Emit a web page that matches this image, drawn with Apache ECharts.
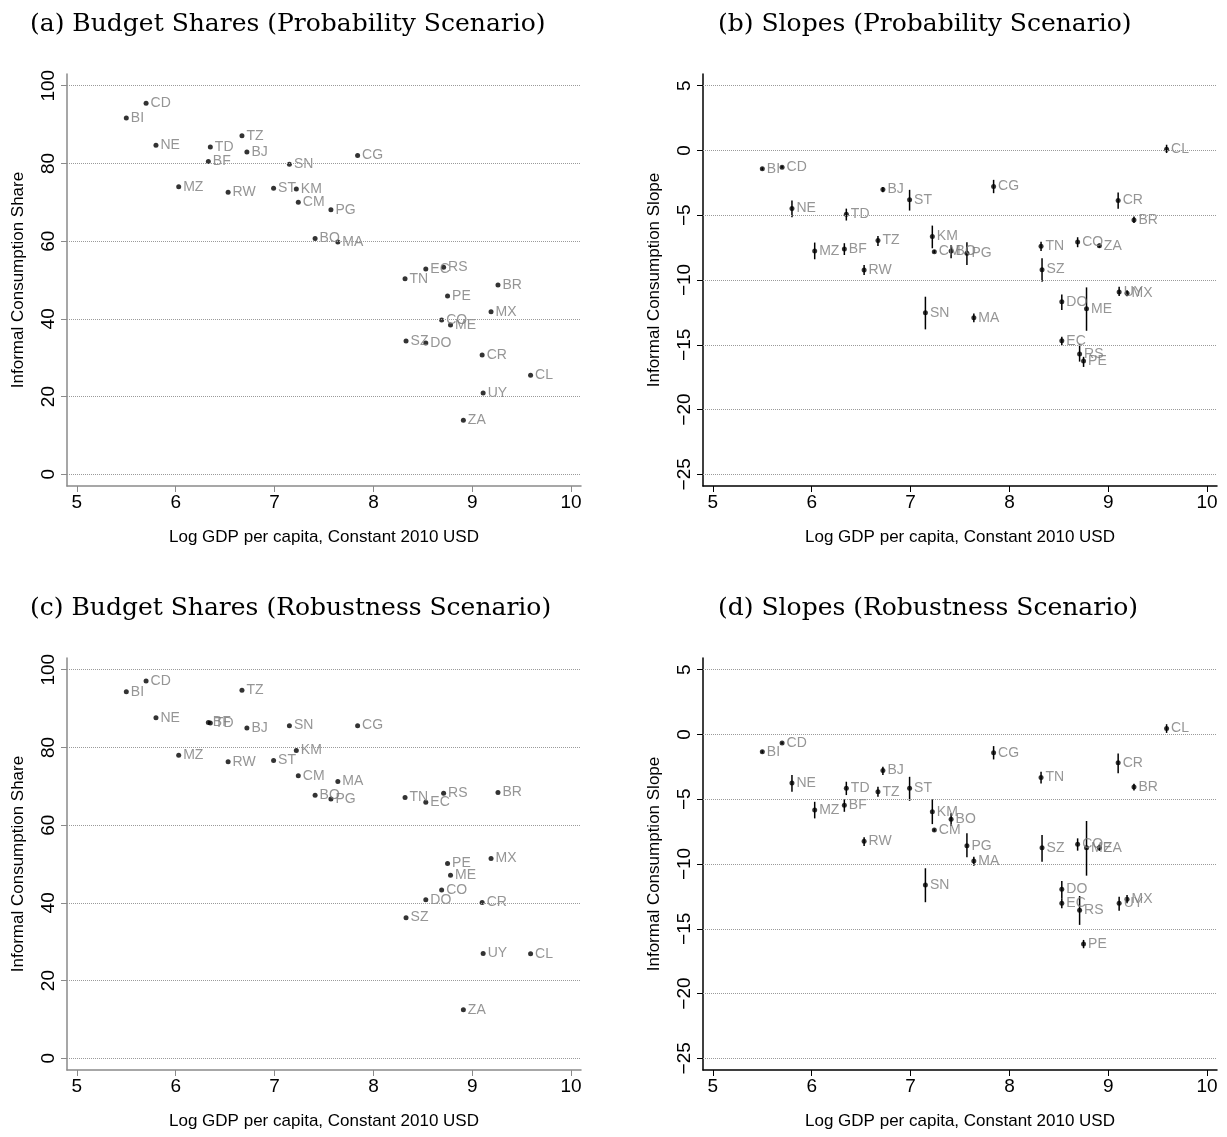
<!DOCTYPE html>
<html>
<head>
<meta charset="utf-8">
<script src="https://cdn.jsdelivr.net/npm/echarts@6/dist/echarts.min.js"></script>
<style>
html,body{margin:0;padding:0;background:#fff;}
#chart{width:1227px;height:1137px;}
</style>
</head>
<body>
<div id="chart"></div>
<script>
// ---- Data ----
var countries = ['BI','CD','NE','MZ','BF','TD','RW','TZ','BJ','ST','SN','KM','CM','BO','PG','MA','CG','TN','SZ','EC','DO','CO','RS','PE','ME','ZA','CR','UY','MX','BR','CL'];
var logGDP    = [5.50,5.70,5.80,6.03,6.33,6.35,6.53,6.67,6.72,6.99,7.15,7.22,7.24,7.41,7.57,7.64,7.84,8.32,8.33,8.53,8.53,8.69,8.71,8.75,8.78,8.91,9.10,9.11,9.19,9.26,9.59];

// (a) Budget shares, probability scenario
var shareProb = [91.7,95.5,84.7,74.0,80.5,84.2,72.6,87.1,82.9,73.6,79.8,73.4,70.0,60.7,68.1,59.8,82.0,50.3,34.3,52.8,33.8,39.7,53.3,45.9,38.4,13.9,30.7,20.9,41.8,48.7,25.5];

// (b) Slopes, probability scenario (point, CI low, CI high)
var slopeProb   = [-1.42,-1.29,-4.48,-7.76,-7.60,-4.92,-9.23,-6.96,-3.02,-3.81,-12.53,-6.65,-7.81,-7.76,-7.94,-12.91,-2.78,-7.40,-9.20,-14.69,-11.68,-7.06,-15.72,-16.26,-12.22,-7.35,-3.87,-10.93,-11.03,-5.36,0.10];
var slopeProbLo = [-1.52,-1.38,-5.15,-8.40,-8.07,-5.41,-9.61,-7.37,-3.22,-4.64,-13.81,-7.55,-7.92,-8.32,-8.84,-13.27,-3.30,-7.76,-10.13,-15.03,-12.32,-7.47,-16.30,-16.71,-13.92,-7.50,-4.51,-11.24,-11.25,-5.60,-0.20];
var slopeProbHi = [-1.32,-1.20,-3.87,-7.11,-7.16,-4.49,-8.84,-6.60,-2.83,-3.04,-11.29,-5.80,-7.70,-7.29,-7.09,-12.58,-2.27,-7.04,-8.32,-14.38,-11.11,-6.70,-14.95,-15.93,-10.57,-7.20,-3.25,-10.52,-10.80,-5.10,0.44];

// (c) Budget shares, robustness scenario
var shareRob = [94.3,97.1,87.6,78.0,86.4,86.3,76.3,94.7,85.0,76.6,85.6,79.2,72.7,67.7,66.7,71.2,85.6,67.1,36.2,65.9,40.8,43.3,68.2,50.1,47.1,12.5,40.1,27.0,51.4,68.4,26.9];

// (d) Slopes, robustness scenario
var slopeRob   = [-1.34,-0.67,-3.75,-5.84,-5.47,-4.16,-8.25,-4.43,-2.78,-4.16,-11.62,-5.97,-7.38,-6.55,-8.59,-9.77,-1.42,-3.32,-8.74,-13.03,-11.95,-8.48,-13.57,-16.17,-8.74,-8.74,-2.19,-13.03,-12.72,-4.06,0.46];
var slopeRobLo = [-1.44,-0.74,-4.42,-6.48,-5.97,-4.68,-8.61,-4.81,-3.14,-5.12,-12.95,-6.92,-7.48,-7.07,-9.48,-10.13,-1.93,-3.78,-9.82,-13.42,-12.65,-8.97,-14.70,-16.50,-10.90,-8.98,-3.00,-13.60,-13.03,-4.32,0.12];
var slopeRobHi = [-1.24,-0.60,-3.14,-5.20,-5.01,-3.65,-7.94,-4.04,-2.50,-3.27,-10.33,-5.01,-7.28,-6.09,-7.63,-9.44,-0.90,-2.88,-7.76,-12.65,-11.31,-8.02,-12.47,-15.86,-6.68,-8.50,-1.47,-12.52,-12.39,-3.80,0.79];

// Tick values
var xTicks = [5,6,7,8,9,10];
var shareTicks = [0,20,40,60,80,100];
var slopeTicks = [-25,-20,-15,-10,-5,0,5];

var titles = ['(a) Budget Shares (Probability Scenario)','(b) Slopes (Probability Scenario)','(c) Budget Shares (Robustness Scenario)','(d) Slopes (Robustness Scenario)'];
var xTitle = 'Log GDP per capita, Constant 2010 USD';
var yTitleShare = 'Informal Consumption Share';
var yTitleSlope = 'Informal Consumption Slope';

// ---- Build ----
var SANS = '"Liberation Sans Narrow","Liberation Sans",Arial,sans-serif';
var SERIF = '"DejaVu Serif","Liberation Serif",serif';

function pts(ys){ return logGDP.map(function(x,i){ return {value:[x, ys[i]], name:countries[i]}; }); }
function bars(lo,hi){ return logGDP.map(function(x,i){ return [x, lo[i], hi[i]]; }); }

var grids = [
  {left:67, top:74, width:514, height:412},
  {left:703, top:74, width:514, height:412},
  {left:67, top:658, width:514, height:412},
  {left:703, top:658, width:514, height:412}
];

function xAx(i, col){
  return {gridIndex:i, type:'value', min:4.9, max:10.1,
    name:xTitle, nameLocation:'middle', nameGap:43,
    nameTextStyle:{fontFamily:SANS, fontSize:17, color:'#000'},
    axisLine:{onZero:false, lineStyle:{color:col, width:1.5}},
    axisTick:{show:true, length:6, customValues:xTicks, lineStyle:{color:col}},
    axisLabel:{fontFamily:SANS, fontSize:19, color:'#000', margin:7, customValues:xTicks,
      showMinLabel:true, showMaxLabel:true},
    splitLine:{show:false}};
}
function yAx(i, col, min, max, ticks, name){
  return {gridIndex:i, type:'value', min:min, max:max,
    name:name, nameLocation:'middle', nameGap:40, nameRotate:90,
    nameTextStyle:{fontFamily:SANS, fontSize:17, color:'#000'},
    axisLine:{show:true, onZero:false, lineStyle:{color:col, width:1.5}},
    axisTick:{show:true, length:6, customValues:ticks, lineStyle:{color:col}},
    axisLabel:{fontFamily:SANS, fontSize:19, color:'#000', rotate:90, margin:9, customValues:ticks,
      formatter:function(v){ var r=Math.round(v); return r<0 ? '\u2212'+Math.abs(r) : String(r); }},
    splitLine:{show:false}};
}

var labelStyle = {show:true, position:'right', distance:2, formatter:'{b}',
  fontFamily:SANS, fontSize:14, color:'#7a7a7a'};

function gridLines(ticks){
  return {silent:true, symbol:['none','none'], label:{show:false},
    lineStyle:{type:'dotted', color:'#9a9a9a', width:1},
    data:ticks.map(function(t){ return {yAxis:t}; })};
}

function scatter(i, ys, ticks){
  return {type:'scatter', xAxisIndex:i, yAxisIndex:i, data:pts(ys), symbol:'circle', symbolSize:5,
    itemStyle:{color:'#000'}, label:labelStyle, z:3, markLine:gridLines(ticks)};
}
function errbars(i, lo, hi){
  return {type:'custom', xAxisIndex:i, yAxisIndex:i, data:bars(lo,hi), z:2,
    renderItem:function(params, api){
      var p1 = api.coord([api.value(0), api.value(1)]);
      var p2 = api.coord([api.value(0), api.value(2)]);
      return {type:'line', shape:{x1:p1[0], y1:p1[1], x2:p2[0], y2:p2[1]},
        style:{stroke:'#000', lineWidth:1.5}};
    }};
}

var tStyle = {fontFamily:SERIF, fontSize:25, fontWeight:'normal', color:'#000'};
var option = {
  animation:false,
  backgroundColor:'#fff',
  title:[
    {text:titles[0], left:25, top:7, textStyle:tStyle},
    {text:titles[1], left:713, top:7, textStyle:tStyle},
    {text:titles[2], left:25, top:591, textStyle:tStyle},
    {text:titles[3], left:713, top:591, textStyle:tStyle}
  ],
  grid:grids,
  xAxis:[xAx(0,'#8a8a8a'), xAx(1,'#000'), xAx(2,'#8a8a8a'), xAx(3,'#000')],
  yAxis:[
    yAx(0,'#8a8a8a',-3,103,shareTicks,yTitleShare),
    yAx(1,'#000',-25.9,5.9,slopeTicks,yTitleSlope),
    yAx(2,'#8a8a8a',-3,103,shareTicks,yTitleShare),
    yAx(3,'#000',-25.9,5.9,slopeTicks,yTitleSlope)
  ],
  series:[
    scatter(0, shareProb, shareTicks),
    errbars(1, slopeProbLo, slopeProbHi),
    scatter(1, slopeProb, slopeTicks),
    scatter(2, shareRob, shareTicks),
    errbars(3, slopeRobLo, slopeRobHi),
    scatter(3, slopeRob, slopeTicks)
  ]
};

var chart = echarts.init(document.getElementById('chart'), null, {renderer:'canvas'});
chart.setOption(option);
</script>
</body>
</html>
